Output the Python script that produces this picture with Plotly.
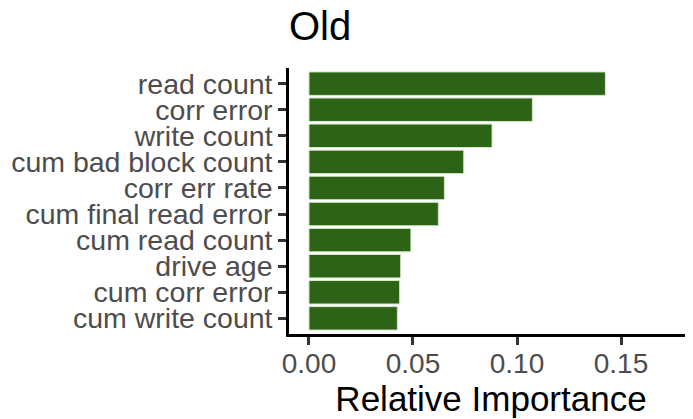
import plotly.graph_objects as go

features = ["read count", "corr error", "write count", "cum bad block count",
            "corr err rate", "cum final read error", "cum read count",
            "drive age", "cum corr error", "cum write count"]
importance = [0.1425, 0.1074, 0.0880, 0.0744, 0.0651, 0.0622, 0.0490,
              0.0441, 0.0436, 0.0425]
x_ticks = [0.0, 0.05, 0.10, 0.15]
x_tick_labels = ["0.00", "0.05", "0.10", "0.15"]

fig = go.Figure(go.Bar(
    x=importance, y=features, orientation="h",
    marker=dict(color="#2d6316", line=dict(color="#d8e8cc", width=1)),
    width=0.9,
))

W, H = 685, 411
fig.update_layout(
    width=W, height=H,
    margin=dict(l=281, r=0, t=60, b=85),
    plot_bgcolor="white", paper_bgcolor="white",
    showlegend=False,
    font=dict(family="Liberation Sans, Arial, sans-serif"),
    title=dict(text="Old", x=281/W, xanchor="left", y=1 - 4/H, yanchor="top",
               font=dict(size=40, color="black"), automargin=False),
    bargap=0.1,
)
fig.update_xaxes(
    range=[-0.0096, 0.1846], tickmode="array", tickvals=x_ticks, ticktext=x_tick_labels,
    showgrid=False, zeroline=False, showline=True, linecolor="black", linewidth=2.5,
    ticks="outside", ticklen=8, tickwidth=2.5, tickcolor="#333333",
    tickfont=dict(size=28, color="#4d4d4d"), automargin=False, ticklabelstandoff=-5,
    title=dict(text="Relative Importance", font=dict(size=35, color="black"), standoff=0),
)
fig.update_yaxes(
    categoryorder="array", categoryarray=features[::-1],
    tickmode="array", tickvals=features, ticktext=features,
    range=[-0.6, 9.6], automargin=False,
    showgrid=False, zeroline=False, showline=True, linecolor="black", linewidth=2.5,
    ticks="outside", ticklen=8, tickwidth=2.5, tickcolor="#333333",
    tickfont=dict(size=28.5, color="#4d4d4d"),
)

fig.write_html("out.html")
